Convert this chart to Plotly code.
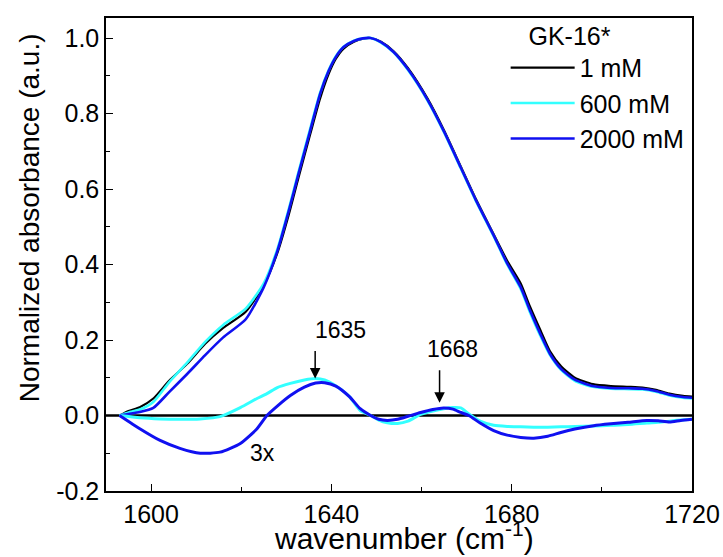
import plotly.graph_objects as go

# normalized spectra
wn_main = [1593, 1595, 1597.5, 1600.5, 1604, 1608, 1612, 1616, 1621, 1625, 1628, 1630.5, 1632.7,
           1635.3, 1637.5, 1639.4, 1641, 1642.7, 1645, 1647, 1648.7, 1651, 1653.8, 1657, 1661.3,
           1665, 1668.7, 1672, 1676, 1679, 1682, 1684, 1686.4, 1688.5, 1691, 1694, 1698, 1702,
           1706, 1709, 1712, 1715, 1718, 1720]
abs_1mM = [0.0, 0.012, 0.022, 0.045, 0.092, 0.137, 0.19, 0.232, 0.275, 0.345, 0.43, 0.53, 0.63,
           0.745, 0.84, 0.905, 0.945, 0.972, 0.99, 0.998, 1.0, 0.99, 0.965, 0.92, 0.84,
           0.755, 0.66, 0.575, 0.48, 0.41, 0.35, 0.29, 0.225, 0.17, 0.13, 0.1, 0.083, 0.078,
           0.076, 0.074, 0.068, 0.058, 0.052, 0.05]
abs_600mM = [0.0, 0.008, 0.016, 0.036, 0.088, 0.14, 0.195, 0.24, 0.283, 0.35, 0.44, 0.545, 0.645,
             0.76, 0.855, 0.915, 0.952, 0.977, 0.993, 0.999, 1.0, 0.988, 0.962, 0.915, 0.835,
             0.75, 0.655, 0.57, 0.475, 0.4, 0.335, 0.275, 0.21, 0.16, 0.12, 0.092, 0.076, 0.071,
             0.07, 0.069, 0.063, 0.053, 0.047, 0.045]
abs_2000mM = [0.0, 0.004, 0.009, 0.02, 0.062, 0.11, 0.16, 0.207, 0.255, 0.34, 0.435, 0.54, 0.64,
              0.755, 0.852, 0.913, 0.95, 0.976, 0.992, 0.999, 1.0, 0.989, 0.963, 0.917, 0.837,
              0.752, 0.657, 0.572, 0.477, 0.403, 0.34, 0.28, 0.215, 0.163, 0.123, 0.095, 0.078, 0.073,
              0.072, 0.071, 0.065, 0.055, 0.049, 0.047]

# difference spectra (3x)
wn_diff = [1593, 1597.5, 1602, 1606.4, 1610.9, 1615.3, 1619.8, 1623.5, 1625.7, 1628, 1630.9,
           1634, 1636.5, 1638.5, 1641, 1644, 1646.4, 1648.7, 1650.5, 1652.4, 1654.7, 1657,
           1659.8, 1662.5, 1664.9, 1667, 1668.7, 1670.5, 1673, 1676, 1679, 1682, 1684.9, 1688,
           1690.9, 1694, 1698.2, 1702, 1705.8, 1710, 1712.5, 1715, 1717.5, 1720]
diff_600mM = [0.0, -0.006, -0.009, -0.01, -0.009, -0.003, 0.021, 0.045, 0.058, 0.074, 0.085,
              0.094, 0.098, 0.094, 0.078, 0.05, 0.013, 0.0, -0.012, -0.019, -0.021, -0.015,
              0.003, 0.012, 0.018, 0.021, 0.02, 0.004, -0.015, -0.026, -0.029, -0.03, -0.031, -0.031,
              -0.03, -0.029, -0.028, -0.026, -0.024, -0.02, -0.018, -0.015, -0.012, -0.01]
diff_2000mM = [0.0, -0.035, -0.066, -0.087, -0.1, -0.097, -0.074, -0.035, 0.0, 0.025, 0.053,
               0.075, 0.086, 0.087, 0.078, 0.05, 0.018, 0.0, -0.01, -0.013, -0.01, -0.002,
               0.008, 0.016, 0.02, 0.017, 0.008, 0.0, -0.02, -0.04, -0.052, -0.058, -0.06, -0.055,
               -0.045, -0.036, -0.027, -0.022, -0.018, -0.013, -0.014, -0.017, -0.013, -0.01]

labels = ["1 mM", "600 mM", "2000 mM"]
colors = ["#000000", "#33FFFF", "#1010F0"]

fig = go.Figure()

fig.add_trace(go.Scatter(x=[1590, 1720], y=[0, 0], mode="lines",
                         line=dict(color="black", width=2.5), showlegend=False))

for y, name, c, w in zip([abs_1mM, abs_600mM, abs_2000mM], labels, colors, [2.2, 2.6, 2.6]):
    fig.add_trace(go.Scatter(x=wn_main, y=y, mode="lines", name=name,
                             line=dict(color=c, width=w, shape="spline", smoothing=0.6)))

fig.add_trace(go.Scatter(x=wn_diff, y=diff_600mM, mode="lines", showlegend=False,
                         line=dict(color=colors[1], width=3, shape="spline", smoothing=0.6)))
fig.add_trace(go.Scatter(x=wn_diff, y=diff_2000mM, mode="lines", showlegend=False,
                         line=dict(color=colors[2], width=3, shape="spline", smoothing=0.6)))

fnt = dict(family="Liberation Sans, Arial, sans-serif", color="black")
arrow = dict(showarrow=True, arrowhead=2, arrowsize=1.4, arrowwidth=1.5, arrowcolor="black", ax=0)

# peak markers
fig.add_annotation(x=1636.4, y=0.098, ay=-29, text="", **arrow)
fig.add_annotation(x=1636.4, y=0.098, text="1635", showarrow=False, xanchor="left",
                   yanchor="bottom", yshift=34, xshift=-2, font=dict(size=23, **fnt))
fig.add_annotation(x=1664, y=0.034, ay=-34, text="", **arrow)
fig.add_annotation(x=1664, y=0.034, text="1668", showarrow=False, xanchor="left",
                   yanchor="bottom", yshift=39, xshift=-15, font=dict(size=23, **fnt))
fig.add_annotation(x=1624.7, y=-0.098, text="3x", showarrow=False,
                   font=dict(size=23, **fnt))

# axis titles
fig.add_annotation(xref="paper", yref="paper", x=0.5085, y=-0.139,
                   xanchor="center", yanchor="bottom", showarrow=False,
                   text="wavenumber (cm<sup>-1</sup>)", font=dict(size=30, **fnt))
fig.add_annotation(xref="paper", yref="paper", x=-0.131, y=0.577, textangle=-90,
                   xanchor="center", yanchor="middle", showarrow=False,
                   text="Normalized absorbance (a.u.)", font=dict(size=28, **fnt))

axis_common = dict(showline=True, linecolor="black", linewidth=1.5, mirror=True,
                   ticks="inside", ticklen=7, tickwidth=1.3, tickcolor="black",
                   showgrid=False, zeroline=False, automargin=False,
                   tickfont=dict(size=25, **fnt))

fig.update_xaxes(range=[1590, 1720], tickvals=[1600, 1640, 1680, 1720],
                 minor=dict(ticks="inside", ticklen=4, tickcolor="black", tickwidth=1.3,
                            tickvals=[1620, 1660, 1700]),
                 **axis_common)
fig.update_yaxes(range=[-0.2, 1.053], tickvals=[-0.2, 0.0, 0.2, 0.4, 0.6, 0.8, 1.0],
                 ticktext=["-0.2", "0.0", "0.2", "0.4", "0.6", "0.8", "1.0"],
                 minor=dict(ticks="inside", ticklen=4, tickcolor="black", tickwidth=1.3,
                            tickvals=[-0.1, 0.1, 0.3, 0.5, 0.7, 0.9]),
                 **axis_common)

fig.update_layout(
    template="none",
    width=723, height=557,
    margin=dict(l=106, r=31, t=16, b=66),
    paper_bgcolor="white", plot_bgcolor="white",
    font=fnt,
    legend=dict(x=0.682, y=1.012, xanchor="left", yanchor="top",
                bgcolor="rgba(0,0,0,0)", font=dict(size=25, **fnt),
                title=dict(text="   GK-16*", font=dict(size=25, **fnt)),
                tracegroupgap=0, itemwidth=64),
)

fig.write_html("out.html", config={"displayModeBar": False},
               post_script="document.body.style.margin='0';")
